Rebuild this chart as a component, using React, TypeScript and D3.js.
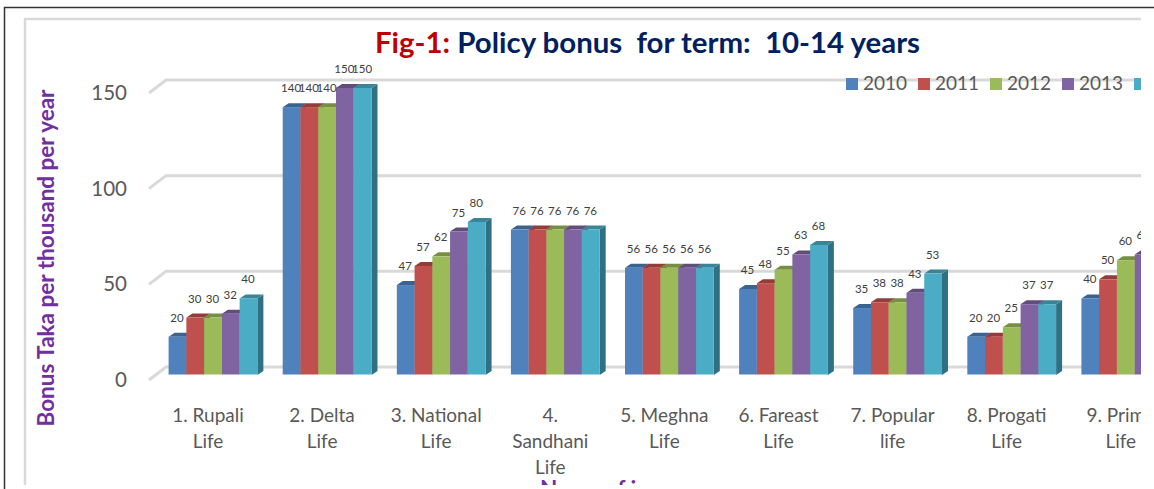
import React from "react";
import * as d3 from "d3";

const categories = ["1. Rupali Life", "2. Delta Life", "3. National Life", "4. Sandhani Life", "5. Meghna Life", "6. Fareast Life", "7. Popular life", "8. Progati Life", "9. Prime Life"];
const categoryLines = [["1. Rupali", "Life"], ["2. Delta", "Life"], ["3. National", "Life"], ["4.", "Sandhani", "Life"], ["5. Meghna", "Life"], ["6. Fareast", "Life"], ["7. Popular", "life"], ["8. Progati", "Life"], ["9. Prime", "Life"]];
const years = ["2010", "2011", "2012", "2013", "2014"];
const s2010 = [20, 140, 47, 76, 56, 45, 35, 20, 40];
const s2011 = [30, 140, 57, 76, 56, 48, 38, 20, 50];
const s2012 = [30, 140, 62, 76, 56, 55, 38, 25, 60];
const s2013 = [32, 150, 75, 76, 56, 63, 43, 37, 63];
const s2014 = [40, 150, 80, 76, 56, 68, 53, 37, 65];
const series = [s2010, s2011, s2012, s2013, s2014];
const fronts = ["#4F81BD", "#C0504D", "#9BBB59", "#8064A2", "#4BACC6"];
const tops = ["#3B6390", "#933C3A", "#768F43", "#614C7C", "#398498"];
const sides = ["#345878", "#7F3432", "#667C3A", "#54426B", "#2F7083"];
const yTicks = [0, 50, 100, 150];

const FONT = "Lato, Carlito, sans-serif";
const DX = 6;
const DY = 8;
const DTOP = 4;

export default function App() {
  const x0 = d3.scaleBand<string>().domain(categories).range([168.6, 1170.2]).paddingInner(0.222).paddingOuter(0);
  const x1 = d3.scaleBand<string>().domain(years).range([0, x0.bandwidth()]);
  const y = d3.scaleLinear().domain([0, 150]).range([375, 88]);
  const gridRight = 1141;
  return (
    <svg width={1154} height={489} style={{ position: "absolute", left: 0, top: 0, background: "#fff" }} fontFamily={FONT}>
      <defs>
        <clipPath id="chartClip">
          <rect x={0} y={0} width={1141} height={485} />
        </clipPath>
      </defs>
      <path d="M4.5 489V7.5H1154" fill="none" stroke="#333" strokeWidth={1.5} />
      <g clipPath="url(#chartClip)">
        <path d="M25 485V19H1141" fill="none" stroke="#D9D9D9" strokeWidth={2.5} />
        {yTicks.map((t) => (
          <g key={t}>
            <path d={`M${149} ${y(t) + 5}L${166} ${y(t) - DY}H${gridRight}`} fill="none" stroke="#D9D9D9" strokeWidth={3} />
            <text x={127} y={y(t) + 12} textAnchor="end" fontSize={20.5} fill="#595959">{t}</text>
          </g>
        ))}
        {years.map((yr, i) => (
          <g key={yr}>
            <rect x={846 + i * 72} y={78} width={12} height={12} fill={fronts[i]} />
            <text x={863 + i * 72} y={90} fontSize={19} fill="#595959">{yr}</text>
          </g>
        ))}
        {categories.map((c, ci) => {
          const gx = x0(c)!;
          return (
            <g key={c}>
              {years.map((yr, si) => {
                const v = series[si][ci];
                const bx = gx + x1(yr)!;
                const w = x1.bandwidth();
                const ty = y(v);
                const by = y(0);
                return (
                  <g key={yr}>
                    <path d={`M${bx + w} ${ty}L${bx + w + DX} ${ty - DTOP}V${by - DTOP}L${bx + w} ${by}Z`} fill={sides[si]} />
                    <path d={`M${bx} ${ty}L${bx + DX} ${ty - DTOP}H${bx + w + DX}L${bx + w} ${ty}Z`} fill={tops[si]} />
                    <rect x={bx} y={ty} width={w} height={by - ty} fill={fronts[si]} />
                    <rect x={bx} y={by - 1} width={w} height={2.5} fill="#fff" opacity={0.5} />
                  </g>
                );
              })}
              {years.map((yr, si) => {
                const v = series[si][ci];
                return (
                  <text key={yr} x={gx + x1(yr)! + x1.bandwidth() / 2 - 0.5} y={y(v) - 15} textAnchor="middle" fontSize={11.5} fill="#404040">{v}</text>
                );
              })}
              <text textAnchor="middle" fontSize={19} fill="#595959">
                {categoryLines[ci].map((line, li) => (
                  <tspan key={li} x={gx + x0.bandwidth() / 2 - 5} y={422 + li * 26}>{line}</tspan>
                ))}
              </text>
            </g>
          );
        })}
        <text x={647.5} y={53} textAnchor="middle" fontSize={29.4} fontWeight={700} xmlSpace="preserve" style={{ whiteSpace: "pre" }}>
          <tspan fill="#C00000">Fig-1: </tspan>
          <tspan fill="#002060">Policy bonus  for term:  10-14 years</tspan>
        </text>
        <text transform="translate(54,258) rotate(-90)" textAnchor="middle" fontSize={22.5} fontWeight={700} fill="#7030A0">Bonus Taka per thousand per year</text>
        <text x={625} y={497} textAnchor="middle" fontSize={22.5} fontWeight={700} fill="#7030A0">Name of insurers</text>
      </g>
    </svg>
  );
}
